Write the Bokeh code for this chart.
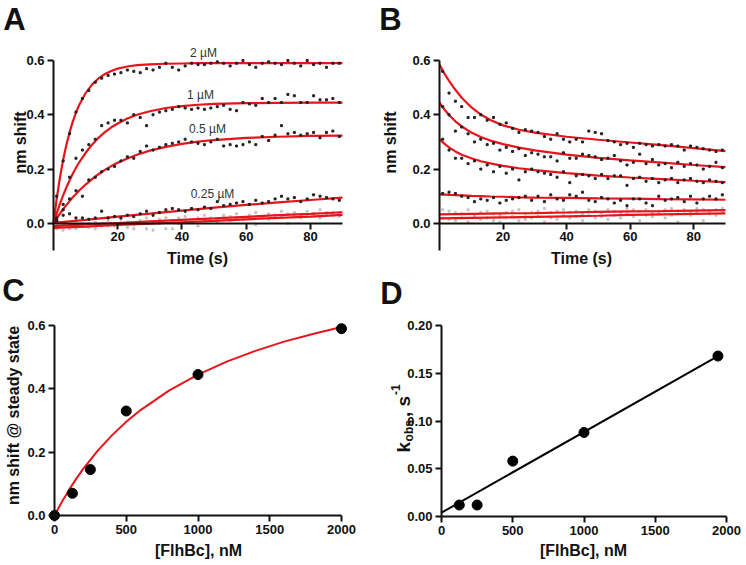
import math
from bokeh.plotting import figure
from bokeh.layouts import column, row
from bokeh.models import Label, FixedTicker, Range1d, NumeralTickFormatter
from bokeh.embed import file_html
from bokeh.resources import INLINE

FONT = "Liberation Sans"
RED = "#e8141b"
INK = "#111111"
GRAY = "#c4c4c4"
DOT = "#222222"

# ---------------- Panel A: association ----------------
t_pts = [1, 3, 5, 7, 9, 11, 13, 15, 17,
         19, 21, 23, 25, 27, 29, 31, 33, 35,
         37, 39, 41, 43, 45, 47, 49, 51, 53,
         55, 57, 59, 61, 63, 65, 67, 69, 71,
         73, 75, 77, 79, 81, 83, 85, 87, 89]

A_2uM = [0.10, 0.23, 0.33, 0.41, 0.46, 0.49, 0.52, 0.535, 0.545,
         0.55, 0.555, 0.565, 0.56, 0.555, 0.57, 0.565, 0.575, 0.59,
         0.575, 0.565, 0.58, 0.59, 0.585, 0.585, 0.59, 0.595, 0.59,
         0.58, 0.59, 0.60, 0.585, 0.575, 0.59, 0.595, 0.59, 0.585,
         0.60, 0.59, 0.58, 0.60, 0.585, 0.59, 0.575, 0.59, 0.59]
A_1uM = [0.02, 0.07, 0.17, 0.24, 0.27, 0.29, 0.31, 0.36, 0.37,
         0.38, 0.38, 0.37, 0.40, 0.39, 0.36, 0.40, 0.41, 0.415,
         0.42, 0.43, 0.425, 0.42, 0.425, 0.42, 0.425, 0.43, 0.435,
         0.42, 0.415, 0.445, 0.44, 0.435, 0.46, 0.445, 0.46, 0.445,
         0.475, 0.47, 0.445, 0.445, 0.47, 0.455, 0.455, 0.46, 0.445]
A_05uM = [0.01, 0.03, 0.09, 0.12, 0.10, 0.16, 0.17, 0.19, 0.20,
          0.21, 0.23, 0.245, 0.24, 0.265, 0.285, 0.27, 0.28, 0.29,
          0.295, 0.30, 0.31, 0.30, 0.295, 0.29, 0.30, 0.31, 0.285,
          0.29, 0.285, 0.29, 0.30, 0.29, 0.32, 0.305, 0.325, 0.36,
          0.33, 0.335, 0.325, 0.33, 0.335, 0.315, 0.335, 0.34, 0.32]
A_025uM = [0.01, 0.05, 0.035, 0.02, 0.02, 0.015, 0.02, 0.045, 0.02,
           0.025, 0.02, 0.03, 0.025, 0.035, 0.045, 0.03, 0.04, 0.05,
           0.055, 0.05, 0.045, 0.055, 0.05, 0.06, 0.055, 0.08, 0.065,
           0.07, 0.075, 0.08, 0.07, 0.085, 0.075, 0.08, 0.09, 0.10,
           0.09, 0.095, 0.08, 0.09, 0.105, 0.10, 0.095, 0.09, 0.085]
A_low1 = [-0.01, 0.0, -0.02, 0.01, -0.005, 0.0, 0.005, -0.01, 0.01,
          0.0, 0.015, 0.005, -0.02, 0.01, 0.02, 0.0, 0.015, 0.02,
          0.01, 0.02, 0.025, 0.01, 0.02, 0.03, 0.02, 0.015, 0.03,
          0.025, 0.035, 0.02, 0.03, 0.04, 0.025, 0.035, 0.03, 0.045,
          0.035, 0.04, 0.03, 0.045, 0.035, 0.05, 0.04, 0.03, 0.04]
A_low2 = [-0.02, -0.025, -0.015, -0.02, -0.01, -0.015, -0.02, -0.005, -0.01,
          -0.01, 0.0, -0.015, -0.005, 0.005, -0.02, -0.025, 0.0, -0.02,
          -0.02, 0.0, 0.01, 0.005, -0.01, 0.01, 0.015, 0.005, 0.02,
          0.01, 0.02, 0.015, 0.025, -0.005, 0.02, 0.015, 0.03, 0.025,
          0.0, 0.03, 0.02, 0.025, 0.035, 0.02, 0.03, 0.04, 0.025]

tA_fit = [0, 1, 2, 3, 4, 5, 6, 7, 8, 10, 12, 14, 16, 18, 20, 23, 26, 30, 35, 40, 45, 50, 60, 70, 80, 90]
fitA_2uM = [0, 0.091, 0.168, 0.234, 0.289, 0.335, 0.375, 0.408, 0.436, 0.480, 0.511, 0.534, 0.550,
            0.561, 0.570, 0.578, 0.583, 0.586, 0.588, 0.589, 0.590, 0.590, 0.590, 0.590, 0.590, 0.590]
fitA_1uM = [0, 0.037, 0.072, 0.103, 0.132, 0.158, 0.183, 0.205, 0.225, 0.260, 0.290, 0.315, 0.336,
            0.354, 0.368, 0.386, 0.400, 0.413, 0.425, 0.432, 0.437, 0.440, 0.443, 0.444, 0.445, 0.445]
fitA_05uM = [0, 0.018, 0.036, 0.052, 0.067, 0.082, 0.096, 0.108, 0.121, 0.143, 0.163, 0.181, 0.197,
             0.211, 0.223, 0.239, 0.253, 0.268, 0.282, 0.293, 0.301, 0.307, 0.315, 0.319, 0.322, 0.323]
t_slow = [0, 10, 20, 30, 40, 50, 60, 70, 80, 90]
fitA_025uM = [0.002, 0.013, 0.025, 0.036, 0.047, 0.058, 0.068, 0.077, 0.086, 0.095]
fitA_low1 = [-0.010, -0.004, 0.001, 0.007, 0.013, 0.018, 0.024, 0.030, 0.035, 0.041]
fitA_low2 = [-0.017, -0.012, -0.006, -0.001, 0.004, 0.009, 0.015, 0.020, 0.025, 0.031]
conc_labels = ["2 \u00b5M", "1 \u00b5M", "0.5 \u00b5M", "0.25 \u00b5M"]

# ---------------- Panel B: dissociation ----------------
B_1 = [0.56, 0.48, 0.45, 0.43, 0.39, 0.39, 0.40, 0.38, 0.39,
       0.365, 0.37, 0.35, 0.335, 0.345, 0.34, 0.335, 0.32, 0.31,
       0.33, 0.31, 0.30, 0.31, 0.30, 0.34, 0.335, 0.33, 0.305,
       0.30, 0.29, 0.295, 0.28, 0.295, 0.29, 0.285, 0.29, 0.285,
       0.29, 0.285, 0.27, 0.285, 0.28, 0.275, 0.27, 0.265, 0.27]
B_2 = [0.43, 0.40, 0.34, 0.355, 0.33, 0.30, 0.31, 0.29, 0.295,
       0.27, 0.28, 0.265, 0.275, 0.25, 0.26, 0.255, 0.245, 0.245,
       0.23, 0.26, 0.24, 0.24, 0.255, 0.25, 0.245, 0.235, 0.24,
       0.25, 0.23, 0.215, 0.225, 0.255, 0.22, 0.235, 0.215, 0.22,
       0.205, 0.225, 0.21, 0.22, 0.215, 0.20, 0.21, 0.225, 0.205]
B_3 = [0.31, 0.27, 0.24, 0.24, 0.22, 0.23, 0.20, 0.215, 0.19,
       0.21, 0.185, 0.20, 0.16, 0.19, 0.20, 0.19, 0.185, 0.18,
       0.17, 0.19, 0.15, 0.175, 0.18, 0.175, 0.165, 0.18, 0.165,
       0.175, 0.175, 0.14, 0.165, 0.17, 0.155, 0.165, 0.15, 0.16,
       0.165, 0.15, 0.16, 0.165, 0.155, 0.15, 0.16, 0.155, 0.15]
B_4 = [0.11, 0.115, 0.11, 0.10, 0.095, 0.08, 0.09, 0.085, 0.095,
       0.075, 0.085, 0.09, 0.095, 0.10, 0.085, 0.10, 0.08, 0.105,
       0.09, 0.085, 0.105, 0.10, 0.115, 0.085, 0.08, 0.095, 0.09,
       0.075, 0.085, 0.065, 0.09, 0.09, 0.075, 0.065, 0.10, 0.085,
       0.09, 0.095, 0.08, 0.10, 0.075, 0.09, 0.10, 0.09, 0.105]
B_low1 = [0.05, 0.045, 0.04, 0.035, 0.05, 0.03, 0.04, 0.045, 0.035,
          0.03, 0.04, 0.045, 0.05, 0.035, 0.04, 0.045, 0.055, 0.04,
          0.045, 0.05, 0.04, 0.045, 0.035, 0.05, 0.045, 0.04, 0.05,
          0.045, 0.04, 0.055, 0.05, 0.045, 0.05, 0.04, 0.045, 0.05,
          0.055, 0.045, 0.05, 0.04, 0.055, 0.05, 0.045, 0.05, 0.055]
B_low2 = [0.02, 0.015, 0.01, 0.02, 0.005, 0.025, 0.015, 0.02, 0.01,
          0.005, 0.02, 0.025, 0.01, 0.015, 0.02, 0.025, 0.005, 0.02,
          0.015, 0.03, 0.02, 0.025, 0.01, 0.03, 0.02, 0.025, 0.015,
          0.03, 0.02, 0.035, 0.025, 0.01, 0.03, 0.025, 0.035, 0.02,
          0.03, 0.005, 0.035, 0.03, 0.04, 0.01, 0.035, 0.03, 0.04]

tB_fit = [0, 1, 2, 3, 5, 7, 10, 13, 16, 20, 25, 30, 40, 50, 60, 70, 80, 90]
fitB_1 = [0.585, 0.563, 0.543, 0.525, 0.492, 0.463, 0.428, 0.401, 0.381, 0.361, 0.345, 0.334, 0.319, 0.308, 0.298, 0.288, 0.277, 0.266]
fitB_2 = [0.445, 0.428, 0.413, 0.399, 0.376, 0.357, 0.335, 0.318, 0.305, 0.292, 0.279, 0.269, 0.253, 0.241, 0.232, 0.224, 0.215, 0.207]
fitB_3 = [0.310, 0.299, 0.289, 0.280, 0.265, 0.253, 0.240, 0.229, 0.221, 0.212, 0.203, 0.196, 0.185, 0.176, 0.169, 0.163, 0.157, 0.152]
fitB_4 = [0.107, 0.106, 0.106, 0.105, 0.104, 0.103, 0.101, 0.100, 0.099, 0.098, 0.096, 0.095, 0.094, 0.092, 0.091, 0.089, 0.088, 0.087]
fitB_low1 = [0.033, 0.035, 0.037, 0.038, 0.040, 0.042, 0.044, 0.045, 0.047, 0.049]
fitB_low2 = [0.018, 0.020, 0.022, 0.024, 0.026, 0.028, 0.031, 0.033, 0.035, 0.037]

# ---------------- Panel C: steady state ----------------
C_conc = [0, 125, 250, 500, 1000, 2000]
C_shift = [0.0, 0.07, 0.145, 0.33, 0.445, 0.59]
C_fit_x = [0, 50, 100, 150, 200, 300, 400, 500, 600, 800, 1000, 1200, 1400, 1600, 1800, 2000]
C_fit_y = [0, 0.042, 0.080, 0.115, 0.147, 0.204, 0.253, 0.296, 0.333, 0.395, 0.445, 0.486, 0.520, 0.549, 0.573, 0.595]

# ---------------- Panel D: kobs ----------------
D_conc = [125, 250, 500, 1000, 1940]
D_kobs = [0.012, 0.012, 0.058, 0.088, 0.168]
D_fit_x = [0, 1940]
D_fit_y = [0.004, 0.168]

TOP_H, BOT_H = 270, 295


class Panel:
    """Figure whose frame is the whole canvas; axes sit at fixed data locations."""

    def __init__(self, W, H, xd, xp, yd, yp):
        sx = (xp[1] - xp[0]) / (xd[1] - xd[0])
        self.sx = sx
        self.x0 = xd[0] - xp[0] / sx
        sy = (yp[0] - yp[1]) / (yd[1] - yd[0])
        self.sy = sy
        self.ytop = yd[1] + yp[1] / sy
        p = figure(width=W, height=H,
                   x_range=Range1d(self.x0, self.x0 + W / sx),
                   y_range=Range1d(self.ytop - H / sy, self.ytop),
                   output_backend="svg", toolbar_location=None, min_border=0)
        p.grid.visible = False
        p.outline_line_color = None
        p.background_fill_color = "white"
        p.border_fill_color = "white"
        p.xaxis.fixed_location = yd[0]
        p.xaxis.bounds = (xd[0], xd[1])
        p.yaxis.bounds = (yd[0], yd[1])
        p.yaxis.fixed_location = xd[0]
        for ax in p.axis:
            ax.axis_line_width = 2
            ax.axis_line_color = INK
            ax.major_tick_line_width = 2
            ax.major_tick_line_color = INK
            ax.major_tick_out = 6
            ax.major_tick_in = 0
            ax.minor_tick_line_color = None
            ax.major_label_text_font = FONT
            ax.major_label_text_font_style = "bold"
            ax.major_label_text_font_size = "13px"
            ax.major_label_text_color = INK
            ax.major_label_standoff = 3
        self.p = p

    def X(self, px):
        return self.x0 + px / self.sx

    def Y(self, py):
        return self.ytop - py / self.sy

    def text(self, px, py, txt, size, bold=False, angle=0.0, align="center",
             baseline="middle", color=INK):
        self.p.add_layout(Label(x=self.X(px), y=self.Y(py), text=txt, text_font=FONT,
                                text_font_size=size, text_font_style="bold" if bold else "normal",
                                angle=angle, text_align=align, text_baseline=baseline,
                                text_color=color))


def kinetics(left_px, right_px):
    P = Panel(373, TOP_H, (0, 90), (left_px, right_px), (-0.1, 0.6), (250, 60))
    P.p.xaxis.fixed_location = 0
    P.p.xaxis.ticker = FixedTicker(ticks=[20, 40, 60, 80])
    P.p.yaxis.ticker = FixedTicker(ticks=[0, 0.2, 0.4, 0.6])
    P.p.yaxis.formatter = NumeralTickFormatter(format="0.0")
    return P


DOT_SIZE = 2.0

# ---- A
A = kinetics(53, 342)
pA = A.p
for ys in (A_low1, A_low2):
    pA.scatter(t_pts, ys, marker="square", size=DOT_SIZE, color=GRAY)
for ys in (fitA_2uM, fitA_1uM, fitA_05uM):
    pA.line(tA_fit, ys, line_color=RED, line_width=2.2)
for ys in (fitA_025uM, fitA_low1, fitA_low2):
    pA.line(t_slow, ys, line_color=RED, line_width=2.2)
for ys in (A_2uM, A_1uM, A_05uM, A_025uM):
    pA.scatter(t_pts, ys, marker="square", size=DOT_SIZE, color=DOT)
for (px, py), txt in zip([(203, 52), (200, 94), (207, 128), (212, 193)], conc_labels):
    A.text(px, py, txt, "12px", color="#333333")
A.text(197, 258, "Time (s)", "16px", bold=True)
A.text(20, 142, "nm shift", "16px", bold=True, angle=math.pi / 2)
A.text(14, 19, "A", "31px", bold=True)

# ---- B
B = kinetics(66, 352)
pB = B.p
for ys in (B_low1, B_low2):
    pB.scatter(t_pts, ys, marker="square", size=DOT_SIZE, color=GRAY)
for ys in (fitB_1, fitB_2, fitB_3, fitB_4):
    pB.line(tB_fit, ys, line_color=RED, line_width=2.2)
for ys in (fitB_low1, fitB_low2):
    pB.line(t_slow, ys, line_color=RED, line_width=2.2)
for ys in (B_1, B_2, B_3, B_4):
    pB.scatter(t_pts, ys, marker="square", size=DOT_SIZE, color=DOT)
B.text(208, 258, "Time (s)", "16px", bold=True)
B.text(17, 142, "nm shift", "16px", bold=True, angle=math.pi / 2)
B.text(17, 19, "B", "31px", bold=True)

# ---- C  (canvas starts at page y = 270)
C = Panel(373, BOT_H, (0, 2000), (54, 341), (0, 0.6), (245, 55))
pC = C.p
pC.xaxis.ticker = FixedTicker(ticks=[0, 500, 1000, 1500, 2000])
pC.yaxis.ticker = FixedTicker(ticks=[0, 0.2, 0.4, 0.6])
pC.yaxis.formatter = NumeralTickFormatter(format="0.0")
pC.line(C_fit_x, C_fit_y, line_color=RED, line_width=2)
pC.scatter(C_conc, C_shift, size=10, color="black")
C.text(198, 280, "[FlhBc], nM", "16px", bold=True)
C.text(13, 145, "nm shift @ steady state", "16px", bold=True, angle=math.pi / 2)
C.text(13, 20, "C", "31px", bold=True)

# ---- D
D = Panel(373, BOT_H, (0, 2000), (68, 353), (0, 0.2), (246, 55))
pD = D.p
pD.xaxis.ticker = FixedTicker(ticks=[0, 500, 1000, 1500, 2000])
pD.yaxis.ticker = FixedTicker(ticks=[0, 0.05, 0.1, 0.15, 0.2])
pD.yaxis.formatter = NumeralTickFormatter(format="0.00")
pD.line(D_fit_x, D_fit_y, line_color="black", line_width=2)
pD.scatter(D_conc, D_kobs, size=10, color="black")
D.text(210, 280, "[FlhBc], nM", "16px", bold=True)
D.text(18, 23, "D", "31px", bold=True)

# composite rotated y label: k_obs, s^-1
F, f = 19, 12
parts = [("k", F, 0, 0.556 * F + 0.5), ("obs", f, 5, 1.778 * f + 3),
         (", s", F, 0, 1.112 * F + 1), ("-1", f, -8, 0.889 * f)]
cur = 182
for txt, size, shift, width in parts:
    D.text(30 + shift, cur, txt, f"{size}px", bold=True, angle=math.pi / 2,
           align="left", baseline="alphabetic")
    cur -= width

layout = column(row(pA, pB), row(pC, pD))
open("out.html", "w").write(file_html(layout, INLINE))
